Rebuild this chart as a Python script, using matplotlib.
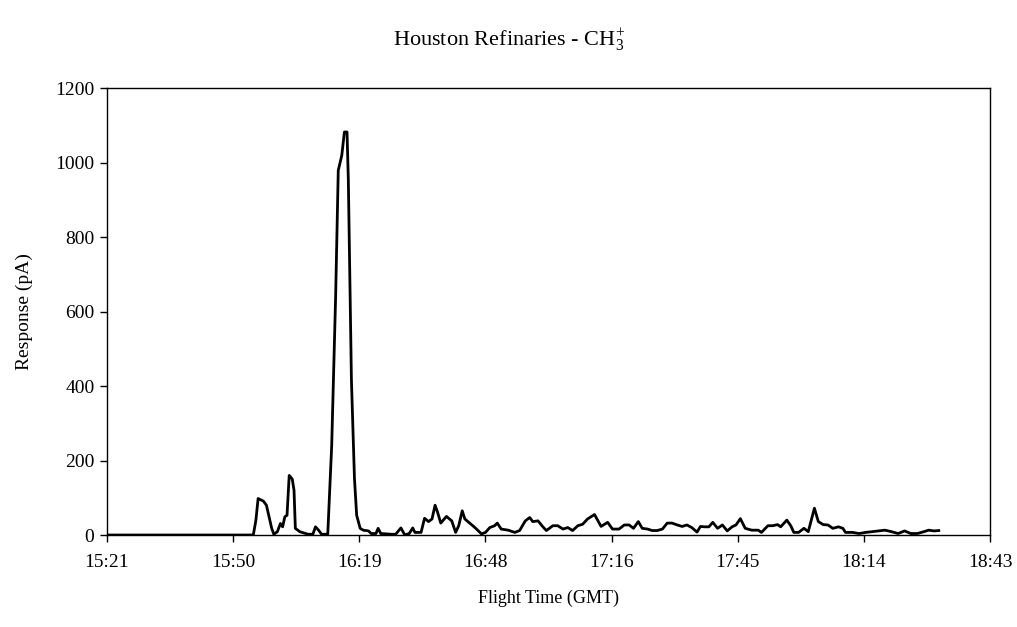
import matplotlib.pyplot as plt
from matplotlib.ticker import FixedLocator, FuncFormatter

plt.rcParams["font.family"] = ["Liberation Serif", "DejaVu Serif"]
plt.rcParams["mathtext.fontset"] = "custom"
plt.rcParams["mathtext.rm"] = "Liberation Serif"
plt.rcParams["mathtext.it"] = "Liberation Serif:italic"

# flight time in minutes after midnight (GMT) and detector response (pA)
TIME_MIN = [
    922.0, 955.0, 955.6, 956.1, 957.3, 958.0, 959.2, 959.7, 960.5, 961.2,
    961.7, 962.2, 962.7, 963.2, 963.9, 964.3, 964.6, 965.6, 967.5, 968.6,
    969.2, 969.9, 970.6, 972.0, 972.9, 973.8, 974.4, 975.2, 975.8, 976.4,
    976.7, 977.4, 978.1, 978.6, 979.4, 980.1, 981.3, 981.9, 983.0, 983.5,
    984.1, 986.6, 987.5, 988.7, 989.6, 990.6, 991.4, 991.9, 993.3, 994.1,
    995.0, 995.8, 996.5, 997.1, 997.8, 999.1, 1000.3, 1001.2, 1001.9, 1002.7,
    1003.3, 1004.2, 1005.6, 1007.1, 1008.0, 1009.0, 1010.1, 1010.7, 1011.6, 1013.2,
    1014.7, 1015.8, 1017.1, 1018.1, 1018.8, 1020.0, 1020.9, 1021.9, 1023.4, 1024.5,
    1025.7, 1026.8, 1027.9, 1029.1, 1030.2, 1031.3, 1032.9, 1034.4, 1035.9, 1037.0,
    1038.5, 1039.7, 1040.8, 1041.8, 1042.9, 1043.8, 1045.0, 1046.1, 1047.2, 1048.4,
    1049.5, 1050.6, 1051.8, 1052.9, 1054.0, 1055.1, 1056.3, 1057.1, 1058.0, 1059.0,
    1059.9, 1061.0, 1062.1, 1063.2, 1064.3, 1065.2, 1066.2, 1067.3, 1068.8, 1070.3,
    1071.0, 1072.5, 1073.6, 1074.7, 1075.4, 1076.8, 1077.7, 1078.4, 1079.5, 1080.7,
    1081.7, 1083.1, 1084.0, 1085.1, 1086.2, 1087.3, 1088.6, 1089.6, 1090.2, 1091.8,
    1093.3, 1094.8, 1096.3, 1097.7, 1099.2, 1100.7, 1102.2, 1103.7, 1105.1, 1106.6,
    1108.1, 1109.2, 1110.4, 1111.5,
]
RESPONSE = [
    0, 0, 40, 98, 91, 80, 18, 2, 9, 31,
    22, 49, 53, 160, 150, 120, 18, 9, 2, 2,
    22, 13, 2, 2, 240, 641, 979, 1019, 1082, 1082,
    952, 418, 151, 53, 18, 13, 11, 4, 4, 18,
    4, 2, 2, 19, 0, 4, 19, 7, 7, 45,
    36, 43, 80, 60, 32, 50, 38, 7, 25, 65,
    43, 34, 20, 3, 7, 20, 25, 32, 16, 13,
    7, 12, 38, 47, 36, 38, 25, 12, 25, 25,
    16, 20, 12, 25, 29, 43, 55, 23, 34, 16,
    16, 27, 27, 18, 36, 18, 16, 12, 12, 16,
    32, 32, 27, 23, 27, 20, 8, 23, 22, 22,
    34, 18, 27, 11, 22, 27, 44, 18, 13, 13,
    7, 25, 25, 28, 22, 40, 25, 7, 7, 18,
    9, 72, 36, 28, 27, 18, 22, 18, 7, 7,
    4, 7, 9, 11, 13, 9, 4, 11, 4, 4,
    9, 13, 11, 12,
]

# Excel-style date axis: 0.64 .. 0.78 day in steps of 0.02 day
X_TICKS = [d * 1440 for d in (0.64, 0.66, 0.68, 0.70, 0.72, 0.74, 0.76, 0.78)]
Y_TICKS = [0, 200, 400, 600, 800, 1000, 1200]


def clock(x, pos):
    m = int(x + 1e-6)
    return f"{m // 60}:{m % 60:02d}"


fig = plt.figure(figsize=(10.17, 6.27), dpi=100)
ax = fig.add_axes([0.1052, 0.1467, 0.8683, 0.7129])

ax.plot(TIME_MIN, RESPONSE, color="black", lw=2.0, solid_joinstyle="round")

ax.set_xlim(X_TICKS[0], X_TICKS[-1])
ax.set_ylim(0, 1200)
ax.xaxis.set_major_locator(FixedLocator(X_TICKS))
ax.xaxis.set_major_formatter(FuncFormatter(clock))
ax.yaxis.set_major_locator(FixedLocator(Y_TICKS))

for s in ax.spines.values():
    s.set_linewidth(1.0)
ax.tick_params(direction="out", length=5, width=1.0, labelsize=14, pad=9)
ax.tick_params(axis="y", pad=4)

ax.set_xlabel("Flight Time (GMT)", fontsize=13, labelpad=13)
ax.set_ylabel("Response (pA)", fontsize=14, labelpad=16)
fig.text(0.5, 0.937, "Houston Refinaries - CH$_3^{+}$", ha="center", va="center", fontsize=16)

fig.savefig("out.png", dpi=100)
